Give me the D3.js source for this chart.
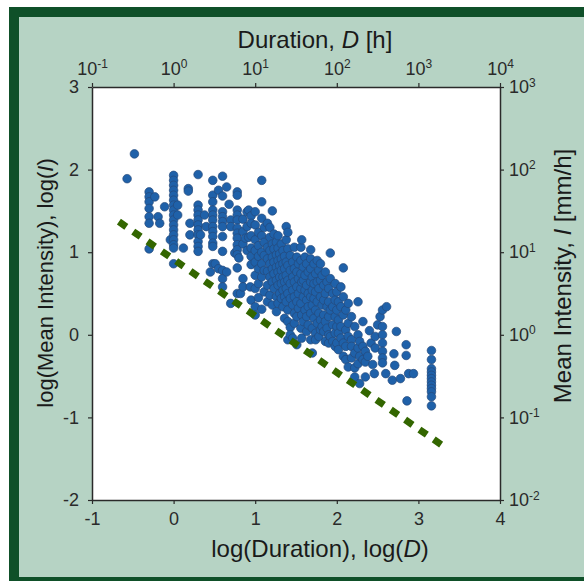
<!DOCTYPE html>
<html>
<head>
<meta charset="utf-8">
<script src="https://cdn.jsdelivr.net/npm/d3@7"></script>
<style>
body { margin: 0; background: #fff; }
text { font-family: Arial, "Liberation Sans", sans-serif; }
</style>
</head>
<body>
<div id="chart-area"></div>
<script>
/*
*    storm duration vs mean intensity
*/

// tick values
var logDTicks = [-1, 0, 1, 2, 3, 4];
var logITicks = [-2, -1, 0, 1, 2, 3];
var durationPowers = [-1, 0, 1, 2, 3, 4];
var intensityPowers = [-2, -1, 0, 1, 2, 3];

// lower bound line (log D, log I at both ends)
var boundD = [-0.67, 3.28];
var boundI = [1.37, -1.33];

// storms, grouped by log(D) column: [logD, [logI, ...]]
var shortStorms = [
    [-0.57, [1.89]],
    [-0.48, [2.19]],
    [-0.30, [1.73, 1.67, 1.61, 1.53, 1.43, 1.35, 1.04]],
    [-0.23, [1.67]],
    [-0.19, [1.43]],
    [-0.17, [1.35]],
    [-0.11, [1.55]],
    [-0.04, [1.15]],
    [0.00, [1.93, 1.87, 1.81, 1.75, 1.69, 1.63, 1.57, 1.51, 1.45, 1.39, 1.33, 1.27, 1.21, 1.15, 1.09, 1.05, 0.86]],
    [0.05, [1.57, 1.45]],
    [0.12, [1.05]],
    [0.18, [1.77, 1.74]],
    [0.20, [1.35, 1.21]],
    [0.30, [1.94, 1.57, 1.51, 1.45, 1.39, 1.33, 1.27, 1.21, 1.13, 1.07, 1.01]],
    [0.33, [1.21]],
    [0.38, [1.45]],
    [0.40, [1.31]],
    [0.45, [0.76]],
    [0.48, [1.87, 1.69, 1.61, 1.51, 1.45, 1.39, 1.31, 1.25, 1.19, 1.11, 1.07, 0.86]],
    [0.51, [0.86]],
    [0.55, [1.75, 0.80]],
    [0.60, [1.92, 1.68, 1.49, 1.43, 1.37, 1.31, 1.19, 1.01, 0.78, 0.68, 0.58]],
    [0.65, [1.79, 0.76]],
    [0.68, [1.58]],
    [0.70, [1.39, 1.31, 0.38]],
    [0.75, [0.99]],
    [0.78, [1.73, 1.69, 1.51, 1.45, 1.39, 1.29, 1.23, 1.17, 1.09, 1.03, 0.97, 0.81, 0.50]],
    [0.80, [0.93]],
    [0.82, [0.50]],
    [0.85, [1.40, 1.25, 1.10, 0.68, 0.58]],
    [0.88, [1.17]],
    [0.90, [1.49, 1.31, 1.02]],
    [0.92, [1.51, 1.18]],
    [0.94, [0.58]],
    [0.95, [1.44, 1.35, 1.20, 1.05, 0.95, 0.85, 0.42]]
];

var mediumStorms = [
    [1.00, [1.49, 1.33, 1.15, 1.02, 0.88, 0.72, 0.56, 0.34, 0.24]],
    [1.04, [1.24, 1.08, 0.95, 0.80, 0.62, 0.45]],
    [1.08, [1.87, 1.61, 1.41, 1.20, 1.00, 0.86, 0.70, 0.31]],
    [1.11, [1.30, 1.12, 0.96, 0.78, 0.52]],
    [1.15, [1.35, 1.06, 0.92, 0.77, 0.60, 0.40]],
    [1.18, [1.30, 1.18, 1.02, 0.86, 0.70, 0.48]],
    [1.21, [1.50, 1.10, 0.94, 0.80, 0.64, 0.36]],
    [1.23, [1.22, 1.04, 0.88, 0.74, 0.56]],
    [1.26, [1.12, 0.97, 0.82, 0.66, 0.46, 0.28]],
    [1.28, [1.20, 1.05, 0.90, 0.76, 0.60, 0.38]],
    [1.30, [0.98, 0.84, 0.70, 0.50]],
    [1.32, [1.10, 0.92, 0.78, 0.62, 0.44]],
    [1.34, [1.02, 0.86, 0.70, 0.54, 0.34]],
    [1.36, [0.95, 0.80, 0.64, 0.46, 0.20]],
    [1.38, [1.31, 1.15, 0.88, 0.72, 0.56, 0.40]],
    [1.40, [1.24, 1.04, 0.84, 0.66, 0.50, 0.30, 0.16, -0.06]],
    [1.43, [0.96, 0.78, 0.62, 0.44, 0.09, 0.00]],
    [1.46, [0.88, 0.70, 0.54, 0.36, -0.04]],
    [1.48, [1.06, 0.80, 0.64, 0.46, 0.26, 0.14]],
    [1.51, [0.94, 0.76, 0.58, 0.40, 0.22, -0.12]],
    [1.53, [0.86, 0.68, 0.50, 0.32]],
    [1.56, [1.06, 0.90, 0.74, 0.56, 0.38, 0.08]],
    [1.57, [1.15, 0.64, 0.24, -0.04]],
    [1.59, [0.82, 0.66, 0.46, 0.16]],
    [1.61, [0.94, 0.72, 0.54, 0.30]],
    [1.63, [0.86, 0.60, 0.42, 0.22, 0.04]],
    [1.65, [0.76, 0.50, 0.34, 0.12]],
    [1.68, [1.03, 0.92, 0.80, 0.64, 0.46, 0.26, -0.06]],
    [1.70, [0.70, 0.54, 0.36, 0.08, -0.22]],
    [1.72, [0.86, 0.62, 0.44, 0.20]],
    [1.74, [0.74, 0.52, 0.30, 0.02, -0.06]],
    [1.76, [0.90, 0.64, 0.40, 0.14]],
    [1.78, [0.78, 0.56, 0.26, -0.02]],
    [1.80, [0.86, 0.66, 0.46, 0.18, 0.06]],
    [1.82, [0.72, 0.36, 0.10]],
    [1.84, [0.60, 0.42, 0.24, 0.04]],
    [1.86, [0.76, 0.50, 0.16, -0.08]],
    [1.88, [0.64, 0.34, 0.08]],
    [1.90, [0.56, 0.40, 0.22, 0.00, -0.10]],
    [1.92, [0.99, 0.68, 0.30, -0.02]],
    [1.95, [0.50, 0.34, 0.12, -0.08]],
    [1.98, [0.62, 0.42, 0.22, 0.02, -0.14]],
    [2.00, [0.52, 0.30, 0.10, -0.10]],
    [2.02, [0.40, 0.18, 0.02, -0.18]],
    [2.05, [0.58, 0.34, 0.10, -0.04]],
    [2.08, [0.81, 0.46, 0.24, -0.10, -0.26]],
    [2.11, [0.30, 0.06, -0.14, -0.30]],
    [2.14, [0.38, 0.14, -0.02, -0.39]],
    [2.18, [0.22, -0.06, -0.14, -0.28]],
    [2.22, [0.10, -0.22, -0.40, -0.51]],
    [2.26, [0.40, 0.00, -0.16, -0.35]],
    [2.28, [-0.08, -0.26, -0.59]],
    [2.32, [0.16, -0.14, -0.30]],
    [2.35, [-0.20, -0.33, -0.51]]
];

var longStorms = [
    [2.38, [-0.26]],
    [2.40, [0.05]],
    [2.42, [-0.10]],
    [2.44, [-0.36]],
    [2.46, [-0.47]],
    [2.47, [-0.02, -0.16]],
    [2.50, [0.12]],
    [2.53, [0.22]],
    [2.56, [0.30, 0.10, 0.00, -0.10, -0.20, -0.28, -0.34]],
    [2.60, [-0.47]],
    [2.61, [0.34]],
    [2.68, [-0.55]],
    [2.70, [-0.23]],
    [2.71, [-0.37]],
    [2.73, [0.04]],
    [2.78, [-0.53]],
    [2.85, [-0.12, -0.25]],
    [2.86, [-0.80]],
    [2.88, [-0.47]],
    [2.94, [-0.47]],
    [3.16, [-0.19, -0.30, -0.41, -0.45, -0.49, -0.53, -0.57, -0.61, -0.65, -0.69, -0.75, -0.86]]
];

var width = 584;
var height = 581;
var plot = { left: 92, right: 500, top: 87, bottom: 500 };

var svg = d3.select("#chart-area").append("svg")
    .attr("width", width)
    .attr("height", height);

// green frame
svg.append("rect")
    .attr("x", 14).attr("y", 12)
    .attr("width", 600).attr("height", 570)
    .attr("fill", "#b6d3c4")
    .attr("stroke", "#0f5029")
    .attr("stroke-width", 10);

svg.append("rect")
    .attr("x", plot.left).attr("y", plot.top)
    .attr("width", plot.right - plot.left)
    .attr("height", plot.bottom - plot.top)
    .attr("fill", "#fff");

var x = d3.scaleLinear().domain([-1, 4]).range([plot.left, plot.right]);
var y = d3.scaleLinear().domain([-2, 3]).range([plot.bottom, plot.top]);
var xTop = d3.scaleLog().domain([0.1, 1e4]).range([plot.left, plot.right]);
var yRight = d3.scaleLog().domain([0.01, 1000]).range([plot.bottom, plot.top]);

var points = [];
[shortStorms, mediumStorms, longStorms].forEach((group) => {
    group.forEach((col) => {
        col[1].forEach((v) => { points.push({ d: col[0], i: v }); });
    });
});

svg.append("g").selectAll("circle")
    .data(points)
    .enter().append("circle")
    .attr("cx", (p) => x(p.d))
    .attr("cy", (p) => y(p.i))
    .attr("r", 4.3)
    .attr("fill", "#1f61a9")
    .attr("stroke", "#25497a")
    .attr("stroke-width", 0.7);

// dashed bound
svg.append("line")
    .attr("x1", x(boundD[0])).attr("y1", y(boundI[0]))
    .attr("x2", x(boundD[1])).attr("y2", y(boundI[1]))
    .attr("stroke", "#336600")
    .attr("stroke-width", 7)
    .attr("stroke-dasharray", "9,8.4");

function styleAxis(g) {
    g.attr("font-size", 18)
        .attr("font-family", "Arial, 'Liberation Sans', sans-serif")
        .attr("color", "#2a2a2a");
    g.select(".domain").attr("stroke-width", 1.5);
    g.selectAll(".tick line").attr("stroke-width", 1.2);
}

function powerLabel(sel) {
    sel.selectAll(".tick text").each(function(d) {
        var t = d3.select(this);
        var p = Math.round(Math.log10(d));
        t.text("");
        t.append("tspan").text("10");
        t.append("tspan").attr("dy", "-0.55em").attr("font-size", "12px").text(String(p));
    });
}

var bottomAxis = d3.axisBottom(x).tickValues(logDTicks).tickSize(4).tickSizeOuter(0)
    .tickPadding(8).tickFormat((d) => String(d));
svg.append("g")
    .attr("transform", "translate(0," + plot.bottom + ")")
    .call(bottomAxis)
    .call(styleAxis);

var leftAxis = d3.axisLeft(y).tickValues(logITicks).tickSize(4).tickSizeOuter(0)
    .tickPadding(9).tickFormat((d) => String(d));
svg.append("g")
    .attr("transform", "translate(" + plot.left + ",0)")
    .call(leftAxis)
    .call(styleAxis);

var topAxis = d3.axisTop(xTop).tickValues(durationPowers.map((p) => Math.pow(10, p)))
    .tickSize(4).tickSizeOuter(0).tickPadding(8).tickFormat(() => "");
svg.append("g")
    .attr("transform", "translate(0," + plot.top + ")")
    .call(topAxis)
    .call(styleAxis)
    .call(powerLabel);

var rightAxis = d3.axisRight(yRight).tickValues(intensityPowers.map((p) => Math.pow(10, p)))
    .tickSize(4).tickSizeOuter(0).tickPadding(5).tickFormat(() => "");
svg.append("g")
    .attr("transform", "translate(" + plot.right + ",0)")
    .call(rightAxis)
    .call(styleAxis)
    .call(powerLabel);

// titles
function title(txt, before, ital, after) {
    txt.append("tspan").text(before);
    txt.append("tspan").attr("font-style", "italic").text(ital);
    txt.append("tspan").text(after);
}

var tTop = svg.append("text")
    .attr("x", 315).attr("y", 48)
    .attr("text-anchor", "middle")
    .attr("font-size", "24px")
    .style("fill", "#1a1a1a");
title(tTop, "Duration, ", "D", " [h]");

var tBottom = svg.append("text")
    .attr("x", 320).attr("y", 557)
    .attr("text-anchor", "middle")
    .attr("font-size", "24px")
    .style("fill", "#1a1a1a");
title(tBottom, "log(Duration), log(", "D", ")");

var tLeft = svg.append("text")
    .attr("transform", "translate(53,283) rotate(-90)")
    .attr("text-anchor", "middle")
    .attr("font-size", "22px")
    .style("fill", "#1a1a1a");
title(tLeft, "log(Mean Intensity), log(", "I", ")");

var tRight = svg.append("text")
    .attr("transform", "translate(571,276) rotate(-90)")
    .attr("text-anchor", "middle")
    .attr("font-size", "24px")
    .style("fill", "#1a1a1a");
title(tRight, "Mean Intensity, ", "I", " [mm/h]");
</script>
</body>
</html>
